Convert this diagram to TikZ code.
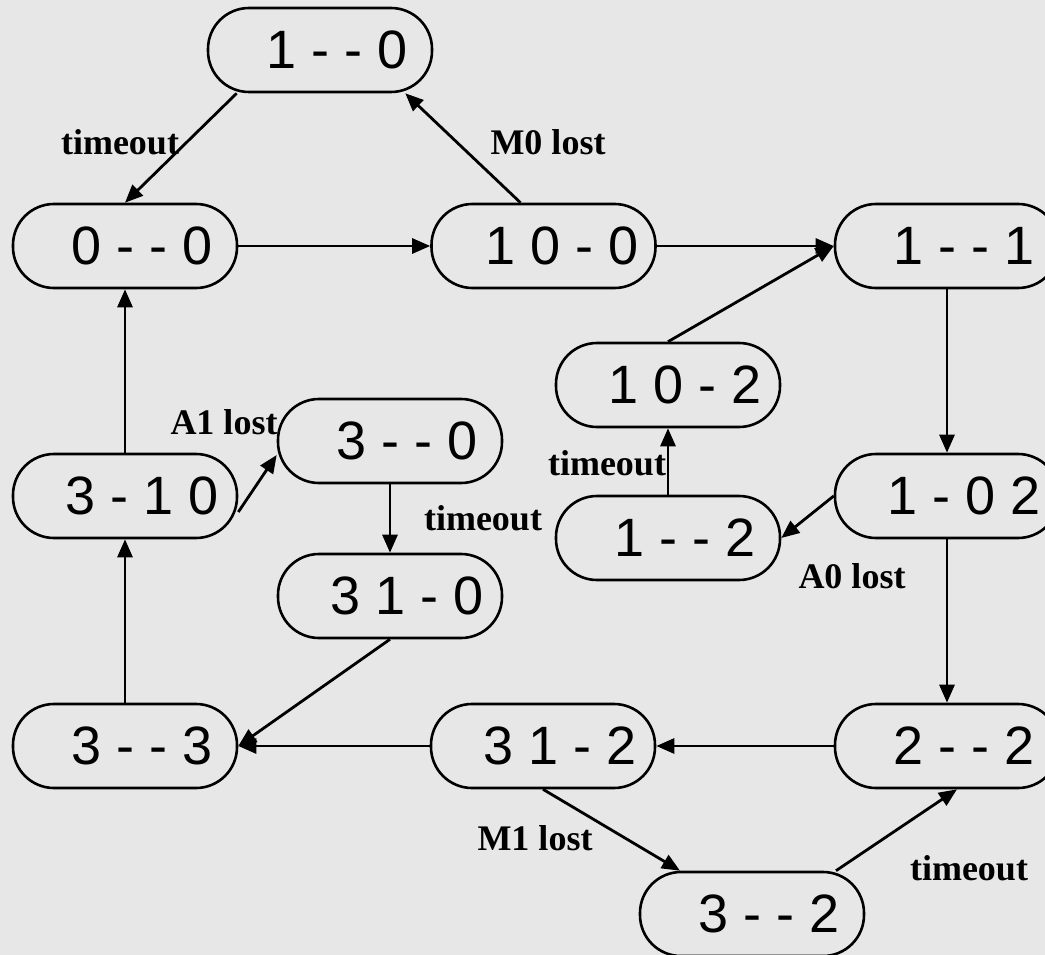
\documentclass[tikz,border=0pt]{standalone}
\usepackage{fontspec}
\setmainfont{Liberation Serif}
\newfontfamily\nodefont{Liberation Sans}
\usetikzlibrary{arrows.meta}
\definecolor{bg}{HTML}{E7E7E7}
\begin{document}
\begin{tikzpicture}[x=1pt,y=-1pt,
  st/.style={draw=black, line width=2.6pt, rounded corners=41pt, minimum width=224pt, minimum height=84pt, inner sep=0pt, font=\nodefont\fontsize{54}{60}\selectfont},
  lab/.style={inner sep=0pt, font=\bfseries\fontsize{36}{40}\selectfont},
  ar/.style={-{Triangle[length=18pt,width=15pt]}, line width=2.8pt}]
\useasboundingbox (0,0) rectangle (1045,955);
\fill[bg] (0,0) rectangle (1045,955);

% states
\node[st] (n10)  at (320,50)   {\hspace*{34pt}1 - - 0};
\node[st] (n00)  at (125,246)  {\hspace*{34pt}0 - - 0};
\node[st] (n100) at (543.5,246){\hspace*{38pt}1 0 - 0};
\node[st] (n11)  at (947,246)  {\hspace*{34pt}1 - - 1};
\node[st] (n102) at (668,385)  {\hspace*{34pt}1 0 - 2};
\node[st] (n12)  at (668,538)  {\hspace*{34pt}1 - - 2};
\node[st] (n1o2) at (947,496)  {\hspace*{34pt}1 - 0 2};
\node[st] (n310) at (125,496)  {\hspace*{34pt}3 - 1 0};
\node[st] (n30)  at (390,441)  {\hspace*{34pt}3 - - 0};
\node[st] (n3100) at (390,596) {\hspace*{34pt}3 1 - 0};
\node[st] (n33)  at (125,746)  {\hspace*{34pt}3 - - 3};
\node[st] (n312) at (543,746)  {\hspace*{34pt}3 1 - 2};
\node[st] (n22)  at (947,746)  {\hspace*{34pt}2 - - 2};
\node[st] (n32)  at (752,914)  {\hspace*{34pt}3 - - 2};

% transitions
\draw[ar] ([xshift=30pt]n10.south west) -- (n00.north);
\draw[ar] ([xshift=-23pt]n100.north) -- ([xshift=-28pt]n10.south east);
\draw[ar] (n00.east) -- (n100.west);
\draw[ar] (n100.east) -- (n11.west);
\draw[ar] (n11.south) -- (n1o2.north);
\draw[ar] (n1o2.west) -- (n12.east);
\draw[ar] (n12.north) -- (n102.south);
\draw[ar] (n102.north) -- (n11.west);
\draw[ar] (n1o2.south) -- (n22.north);
\draw[ar] (n22.west) -- (n312.east);
\draw[ar] (n312.south) -- ([xshift=-72pt]n32.north);
\draw[ar] ([xshift=84pt]n32.north) -- ([xshift=10pt]n22.south);
\draw[ar] (n312.west) -- (n33.east);
\draw[ar] (n3100.south) -- (n33.east);
\draw[ar] (n33.north) -- (n310.south);
\draw[ar] (n310.north) -- (n00.south);
\draw[ar] ([yshift=-16pt]n310.east) -- ([yshift=-14pt]n30.west);
\draw[ar] (n30.south) -- (n3100.north);

% labels
\node[lab] (l1) at (120,142) {timeout};
\node[lab] (l2) at (548,142) {M0 lost};
\node[lab] (l3) at (224,422) {A1 lost};
\node[lab] (l4) at (483,518) {timeout};
\node[lab] (l5) at (607,463) {timeout};
\node[lab] (l6) at (852,576) {A0 lost};
\node[lab] (l7) at (535,838) {M1 lost};
\node[lab] (l8) at (969,868) {timeout};
\end{tikzpicture}
\end{document}
